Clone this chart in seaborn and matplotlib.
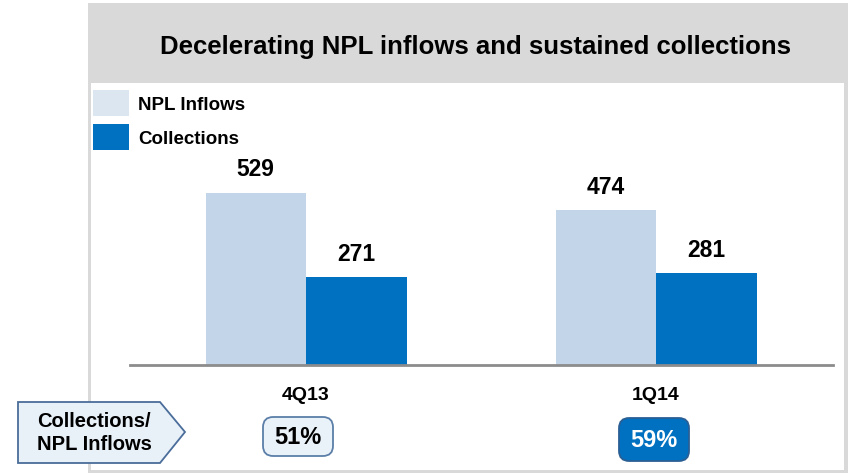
import matplotlib
matplotlib.use("Agg")
import matplotlib.pyplot as plt
from matplotlib.patches import Rectangle, FancyBboxPatch, Polygon
import pandas as pd
import seaborn as sns

# Data
quarters = ["4Q13", "1Q14"]
npl_inflows = [529, 474]
collections = [271, 281]
ratio_labels = ["51%", "59%"]
series_names = ["NPL Inflows", "Collections"]

LIGHT = "#c3d5e8"
LEGEND_LIGHT = "#dce6f1"
BLUE = "#0070c0"
FONT = ["Liberation Sans", "DejaVu Sans"]

sns.set_theme(style="white")
plt.rcParams["font.family"] = FONT

W, H = 848, 473
fig = plt.figure(figsize=(W / 100, H / 100), dpi=100)
fig.patch.set_facecolor("white")


def fx(x):
    return x / W


def fy(y):
    return 1 - y / H


def frect(x0, y0, x1, y1, **kw):
    return Rectangle((fx(x0), fy(y1)), fx(x1) - fx(x0), fy(y0) - fy(y1),
                     transform=fig.transFigure, **kw)


# Panel frame and header band
fig.patches.append(frect(88, 3, 848, 473, facecolor="#d9d9d9", edgecolor="none", zorder=0))
fig.patches.append(frect(91, 83, 844, 470, facecolor="white", edgecolor="none", zorder=0))
fig.text(fx(475), fy(47), "Decelerating NPL inflows and sustained collections",
         ha="center", va="center", fontsize=18.5, fontweight="bold", color="black")

# Bars
df = pd.DataFrame({
    "quarter": quarters * 2,
    "series": [series_names[0]] * 2 + [series_names[1]] * 2,
    "value": npl_inflows + collections,
})

base_y, top_y = 365, 160
left_x, right_x = 130, 833
ax = fig.add_axes([fx(left_x), fy(base_y), fx(right_x) - fx(left_x), fy(top_y) - fy(base_y)])
ax.set_zorder(2)
sns.barplot(data=df, x="quarter", y="value", hue="series", order=quarters,
            hue_order=series_names, palette=[LIGHT, BLUE], width=201 / 350,
            gap=0, saturation=1, legend=False, ax=ax, zorder=2)
for p in ax.patches:
    p.set_edgecolor("none")
ax.set_xlim((left_x - 306) / 350, (right_x - 306) / 350)
ax.set_ylim(0, (base_y - top_y) / 0.326)
ax.set_facecolor("none")
for side in ["top", "right", "left"]:
    ax.spines[side].set_visible(False)
ax.spines["bottom"].set_color("#8c8c8c")
ax.spines["bottom"].set_linewidth(2)
ax.spines["bottom"].set_zorder(3)
ax.set_yticks([])
ax.set_xlabel("")
ax.set_ylabel("")
ax.set_xticks(range(len(quarters)))
ax.set_xticklabels(quarters, fontsize=14, fontweight="bold", color="black")
ax.tick_params(axis="x", length=0, pad=16, labelcolor="black")

for cont in ax.containers:
    ax.bar_label(cont, fmt="%d", padding=8, fontsize=16.5, fontweight="bold", color="black")

# Legend
legend_rows = [(90, 116, LEGEND_LIGHT, 105), (124, 150, BLUE, 139)]
for (y0, y1, col, ty), name in zip(legend_rows, series_names):
    fig.patches.append(frect(93, y0, 129, y1, facecolor=col, edgecolor="none", zorder=1))
    fig.text(fx(138), fy(ty), name, ha="left", va="center", fontsize=13.5,
             fontweight="bold", color="black")

# Ratio boxes
box_specs = [
    (263, 417, 333, 456, "#eaf2f9", "#5b7fa8", "black"),
    (619, 418, 689, 461, BLUE, "#2a5f95", "white"),
]
for (x0, y0, x1, y1, fc, ec, tc), txt in zip(box_specs, ratio_labels):
    fig.patches.append(FancyBboxPatch((fx(x0), fy(y1)), fx(x1) - fx(x0), fy(y0) - fy(y1),
                                      boxstyle="round,pad=0,rounding_size=0.012",
                                      transform=fig.transFigure, facecolor=fc,
                                      edgecolor=ec, linewidth=1.3, zorder=3,
                                      mutation_aspect=W / H))
    fig.text(fx((x0 + x1) / 2), fy((y0 + y1) / 2 + 1), txt, ha="center", va="center",
             fontsize=17, fontweight="bold", color=tc, zorder=4)

# Pentagon label on the left
pts = [(18, 402), (160, 402), (185, 432), (160, 463), (18, 463)]
fig.patches.append(Polygon([(fx(x), fy(y)) for x, y in pts], closed=True,
                           transform=fig.transFigure, facecolor="#e8f0f8",
                           edgecolor="#4a6d9a", linewidth=1.3, zorder=3))
fig.text(fx(94), fy(433), "Collections/\nNPL Inflows", ha="center", va="center",
         fontsize=14.5, fontweight="bold", color="black", linespacing=1.3, zorder=4)

fig.savefig("out.png", dpi=100)
